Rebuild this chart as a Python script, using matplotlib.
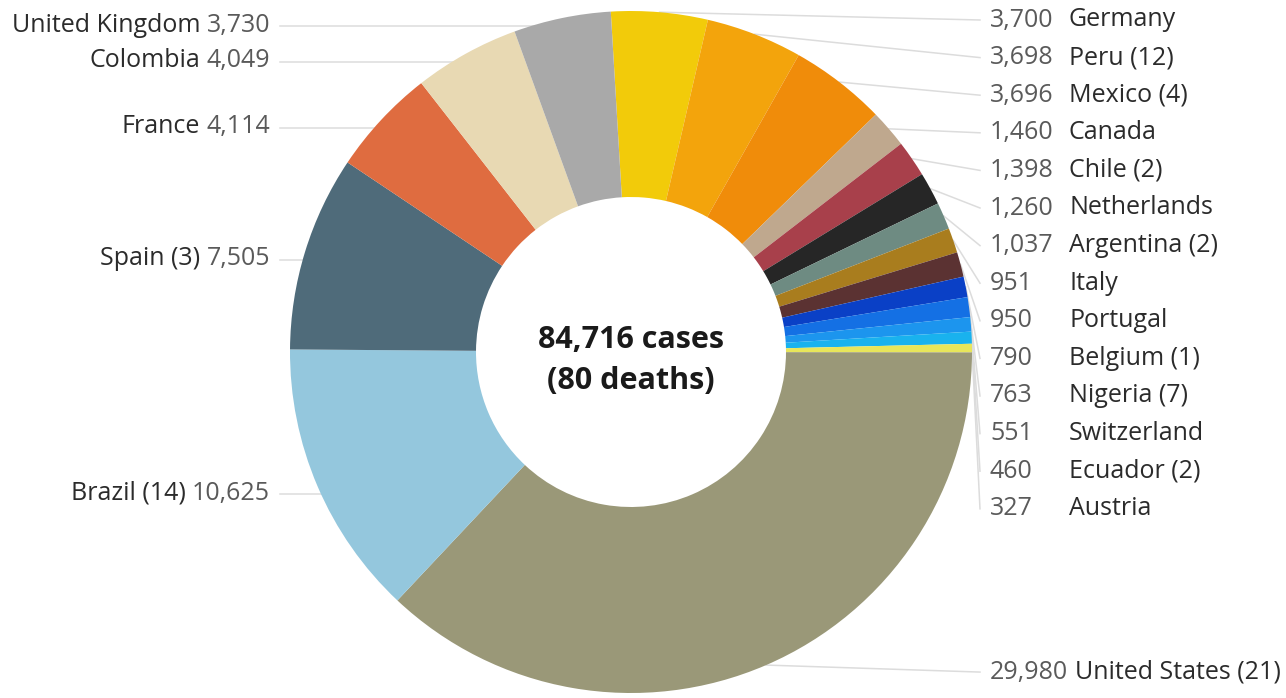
import matplotlib
matplotlib.use("Agg")
import matplotlib.pyplot as plt
import numpy as np

# ---- data (clockwise from 12 o'clock) ----
countries = ["Germany", "Peru", "Mexico", "Canada", "Chile", "Netherlands",
             "Argentina", "Italy", "Portugal", "Belgium", "Nigeria",
             "Switzerland", "Ecuador", "Austria", "United States", "Brazil",
             "Spain", "France", "Colombia", "United Kingdom"]
cases = [3700, 3698, 3696, 1460, 1398, 1260, 1037, 951, 950, 790, 763,
         551, 460, 327, 29980, 10625, 7505, 4114, 4049, 3730]
deaths = [0, 12, 4, 0, 2, 0, 2, 0, 0, 1, 7, 0, 2, 0, 21, 14, 3, 0, 0, 0]
colors = ["#F2CB0A", "#F3A40C", "#F08C0A", "#BFA88E", "#A8404B", "#262626",
          "#6E8B82", "#A97D1E", "#5B3232", "#0A40C6", "#1470E4",
          "#1C95EE", "#19B2EE", "#E8E65A", "#9A9878", "#94C7DD",
          "#4F6B7A", "#DF6C40", "#E8D9B3", "#A9A9A9"]
total_cases = 84716
total_deaths = 80

plt.rcParams['font.family'] = ['Open Sans', 'DejaVu Sans']

W, H = 1286, 698
fig = plt.figure(figsize=(W / 100, H / 100), dpi=100)
ax = fig.add_axes([0, 0, 1, 1])

cx, cy = 631, H - 352
R = 341
wedges, _ = ax.pie(cases, colors=colors, radius=R, center=(cx, cy),
                   startangle=93.4, counterclock=False,
                   wedgeprops=dict(width=186, linewidth=0))
ax.set_xlim(0, W)
ax.set_ylim(0, H)
ax.set_aspect('auto')
ax.axis('off')

renderer = fig.canvas.get_renderer()
FS = 18
name_col = "#2b2b2b"
val_col = "#5a5a5a"
line_col = "#dcdcdc"

spacing = 37.6
top = 20
ri = 0
for w, name, c, d in zip(wedges, countries, cases, deaths):
    mid = np.deg2rad((w.theta1 + w.theta2) / 2)
    mx, my = cx + R * np.cos(mid), cy + R * np.sin(mid)
    label = f"{name} ({d})" if d else name
    val = f"{c:,}"
    if mx > cx:
        ystack = H - (top + ri * spacing)
        y = ystack if my > ystack - 3 * spacing else my - 7
        ri += 1
        ax.plot([mx, 980], [my, y], color=line_col, lw=1.1, zorder=0)
        tv = ax.text(990, y, val, ha='left', va='center', fontsize=FS, color=val_col)
        bb = tv.get_window_extent(renderer)
        nx = max(1069, bb.x1 + 7)
        ax.text(nx, y, label, ha='left', va='center', fontsize=FS, color=name_col)
    else:
        y = my - 7
        xe = cx - np.sqrt(max(R ** 2 - (y - cy) ** 2, 0))
        ax.plot([280, xe], [y - 1, y - 1], color=line_col, lw=1.1, zorder=0)
        tv = ax.text(270, y, val, ha='right', va='center', fontsize=FS, color=val_col)
        bb = tv.get_window_extent(renderer)
        ax.text(bb.x0 - 6, y, label, ha='right', va='center', fontsize=FS, color=name_col)

ax.text(cx, H - 340, f"{total_cases:,} cases", ha='center', va='center',
        fontsize=22, fontweight='bold', color="#1a1a1a")
ax.text(cx, H - 381, f"({total_deaths} deaths)", ha='center', va='center',
        fontsize=22, fontweight='bold', color="#1a1a1a")

fig.savefig("out.png", dpi=100, facecolor="white")
